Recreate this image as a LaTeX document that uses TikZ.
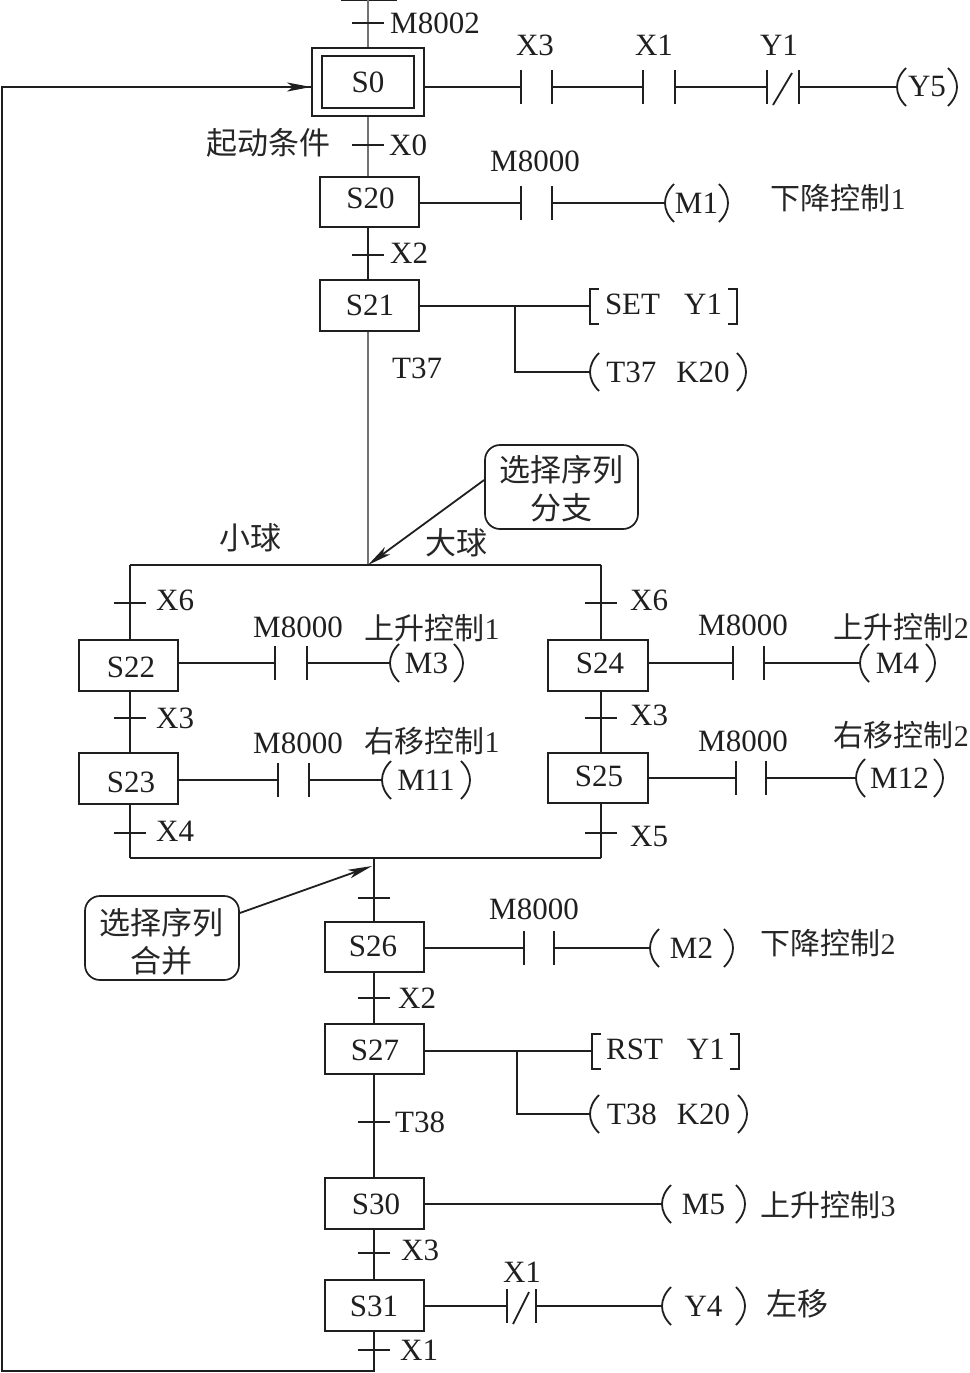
\documentclass[tikz,border=0pt]{standalone}
\usepackage{fontspec}
\setmainfont{Liberation Serif}
\newfontfamily\cjk{Noto Sans CJK SC}
\usetikzlibrary{arrows.meta}
\tikzset{
  x=1pt,y=-1pt,
  ln/.style={line width=1.8pt,black!88},
  thinln/.style={line width=1.1pt,black!55},
  stepbox/.style={draw=black!88,line width=1.9pt,inner sep=0pt},
  lab/.style={inner sep=0pt,font=\fontsize{31}{31}\selectfont,text=black!88},
  cn/.style={inner sep=0pt,font=\fontsize{30}{30}\selectfont,text=black!85},
  cnb/.style={inner sep=0pt,font=\cjk\fontsize{31}{31}\selectfont,text=black!85},
  callout/.style={draw=black!88,line width=1.7pt,rounded corners=15pt,inner sep=0pt},
  calltext/.style={inner sep=0pt,align=center,font=\cjk\fontsize{31}{38}\selectfont,text=black!85},
  arr/.style={ln,-{Stealth[length=24pt,width=9pt,inset=6pt]}}
}
% step box by its corners, with its text at a given place
\newcommand{\stp}[8]{\node[stepbox,minimum width=#4pt-#2pt,minimum height=#5pt-#3pt] (#1) at ({(#2+#4)/2},{(#3+#5)/2}) {};
  \node[lab] (#1t) at (#7,#8) {#6};}
% open contact
\newcommand{\cont}[4]{\coordinate (#1l) at (#2,#4);\coordinate (#1r) at (#3,#4);
  \draw[ln] (#2,#4-17) -- (#2,#4+17) (#3,#4-17) -- (#3,#4+17);}
% closed contact
\newcommand{\ncont}[4]{\cont{#1}{#2}{#3}{#4}\draw[ln] (#3-7,#4-14) -- (#2+6,#4+18);}
% coil in round brackets
\newcommand{\coil}[5]{\coordinate (#1) at (#2,#4);
  \node[lab] (#1t) at ({(#2+#3)/2},#4) {#5};
  \draw[ln] (#2+9,#4-19) .. controls (#2-3,#4-7) and (#2-3,#4+7) .. (#2+9,#4+19);
  \draw[ln] (#3-9,#4-19) .. controls (#3+3,#4-7) and (#3+3,#4+7) .. (#3-9,#4+19);}
% instruction in square brackets
\newcommand{\instr}[5]{\coordinate (#1) at (#2,#4);
  \node[lab] (#1t) at ({(#2+#3)/2},#4-2) {#5};
  \draw[ln] (#2+9,#4-17) -- (#2,#4-17) -- (#2,#4+18) -- (#2+9,#4+18);
  \draw[ln] (#3-9,#4-17) -- (#3,#4-17) -- (#3,#4+18) -- (#3-9,#4+18);}
% transition tick
\newcommand{\tick}[3]{\coordinate (#1) at (#2,#3);\draw[ln] (#2-16,#3) -- (#2+16,#3);}
\begin{document}
\begin{tikzpicture}
\useasboundingbox (0,0) rectangle (969,1373);
\fill[white] (0,0) rectangle (969,1373);
% steps
\node[stepbox,minimum width=112pt,minimum height=68pt] (s0o) at (368,82) {};
\stp{s0}{322}{56}{414}{108}{S0}{368}{82}
\stp{s20}{320}{177}{419}{227}{S20}{370.5}{198}
\stp{s21}{320}{280}{419}{331}{S21}{370}{305}
\stp{s22}{79}{640}{178}{691}{S22}{131}{667}
\stp{s23}{79}{753}{178}{804}{S23}{131}{782}
\stp{s24}{548}{640}{648}{691}{S24}{600}{663}
\stp{s25}{548}{753}{648}{803}{S25}{599}{776}
\stp{s26}{325}{922}{424}{972}{S26}{373}{946}
\stp{s27}{325}{1024}{424}{1074}{S27}{375}{1050}
\stp{s30}{325}{1178}{424}{1229}{S30}{376}{1204}
\stp{s31}{325}{1280}{424}{1331}{S31}{374}{1306}
% top spine
\coordinate (top) at (368,0);
\coordinate (j1) at (368,565);
\coordinate (j2) at (374,858);
\draw[ln] (341,0) -- (397,0);
\draw[thinln] (top) -- (s0o.north -| top);
\draw[thinln] (s0o.south -| top) -- (s20.north -| top);
\draw[ln] (s20.south -| top) -- (s21.north -| top);
\draw[thinln] (s21.south -| top) -- (j1);
% selective block
\coordinate (bl) at (130,565);\coordinate (br) at (601,565);
\coordinate (cl) at (130,858);\coordinate (cr) at (601,858);
\draw[ln] (bl) -- (br);
\draw[ln] (cl) -- (cr);
\draw[ln] (bl) -- (s22.north -| bl);
\draw[ln] (s22.south -| bl) -- (s23.north -| bl);
\draw[ln] (s23.south -| bl) -- (cl);
\draw[ln] (br) -- (s24.north -| br);
\draw[ln] (s24.south -| br) -- (s25.north -| br);
\draw[ln] (s25.south -| br) -- (cr);
% lower spine
\draw[ln] (j2) -- (s26.north -| j2);
\draw[ln] (s26.south -| j2) -- (s27.north -| j2);
\draw[ln] (s27.south -| j2) -- (s30.north -| j2);
\draw[ln] (s30.south -| j2) -- (s31.north -| j2);
\coordinate (fb1) at (374,1371);\coordinate (fb2) at (2,1371);\coordinate (fb3) at (2,87);
\draw[ln] (s31.south -| j2) -- (fb1) -- (fb2) -- (fb3) -- (s0o.west |- fb3);
\draw[arr] (250,87) -- (s0o.west |- fb3);
% ticks
\tick{t1}{368}{23}\node[lab,anchor=west] (lt1) at (390,23) {M8002};
\tick{t2}{368}{145}\node[lab,anchor=west] (lt2) at (389,145) {X0};
\tick{t3}{368}{255}\node[lab,anchor=west] (lt3) at (390,253) {X2};
\node[lab,anchor=west] (lt37) at (392,368) {T37};
\tick{t4}{130}{603}\node[lab,anchor=west] (lt4) at (156,600) {X6};
\tick{t5}{130}{718}\node[lab,anchor=west] (lt5) at (156,718) {X3};
\tick{t6}{130}{833}\node[lab,anchor=west] (lt6) at (156,831) {X4};
\tick{t7}{601}{603}\node[lab,anchor=west] (lt7) at (630,600) {X6};
\tick{t8}{601}{718}\node[lab,anchor=west] (lt8) at (630,715) {X3};
\tick{t9}{601}{833}\node[lab,anchor=west] (lt9) at (630,836) {X5};
\tick{t10}{374}{898}
\tick{t11}{374}{998}\node[lab,anchor=west] (lt11) at (398,998) {X2};
\tick{t12}{374}{1122}\node[lab,anchor=west] (lt12) at (395,1122) {T38};
\tick{t13}{374}{1253}\node[lab,anchor=west] (lt13) at (401,1250) {X3};
\tick{t14}{374}{1350}\node[lab,anchor=west] (lt14) at (400,1350) {X1};
% S0 rung
\cont{k1}{521}{552}{87}\cont{k2}{643}{675}{87}\ncont{k3}{767}{799}{87}
\coil{y5}{897}{957}{87}{Y5}
\draw[ln] (s0o.east |- k1l) -- (k1l) (k1r) -- (k2l) (k2r) -- (k3l) (k3r) -- (y5);
\node[lab] (lk1) at (535,45) {X3};
\node[lab] (lk2) at (654,45) {X1};
\node[lab] (lk3) at (779,45) {Y1};
% S20 rung
\cont{k4}{521}{552}{203}\coil{m1}{665}{728}{203}{M1}
\draw[ln] (s20.east |- k4l) -- (k4l) (k4r) -- (m1);
\node[lab] (lk4) at (535,161) {M8000};
\node[cn] (n1) at (838,198) {{\cjk 下降控制}1};
% S21 rung
\instr{i1}{590}{737}{306}{SET\hspace{24pt}Y1}
\coil{t37}{590}{746}{372}{T37\hspace{20pt}K20}
\coordinate (br1) at (515,306);
\draw[ln] (s21.east |- i1) -- (i1);
\draw[ln] (br1) |- (t37);
% callouts
\node[callout,minimum width=153pt,minimum height=84pt] (c1) at (561.5,487) {};
\node[calltext] (c1t) at (561,489) {选择序列\\分支};
\draw[arr] (c1.west |- 0,480) -- (j1);
\node[callout,minimum width=154pt,minimum height=84pt] (c2) at (162,938) {};
\node[calltext] (c2x) at (161,942) {选择序列\\合并};
\coordinate (c2e) at (372,866);
\draw[arr] (c2.east |- 0,913) -- (c2e);
\node[cnb] (n2) at (250,538) {小球};
\node[cnb] (n3) at (456,543) {大球};
\node[cnb] (n4) at (268,143) {起动条件};
% S22 rung
\cont{k5}{275}{307}{663}\coil{m3}{390}{463}{663}{M3}
\draw[ln] (s22.east |- k5l) -- (k5l) (k5r) -- (m3);
\node[lab] (lk5) at (298,627) {M8000};
\node[cn] (n5) at (432,628) {{\cjk 上升控制}1};
% S23 rung
\cont{k6}{278}{309}{780}\coil{m11}{382}{470}{780}{M11}
\draw[ln] (s23.east |- k6l) -- (k6l) (k6r) -- (m11);
\node[lab] (lk6) at (298,743) {M8000};
\node[cn] (n6) at (432,741) {{\cjk 右移控制}1};
% S24 rung
\cont{k7}{733}{764}{663}\coil{m4}{860}{935}{663}{M4}
\draw[ln] (s24.east |- k7l) -- (k7l) (k7r) -- (m4);
\node[lab] (lk7) at (743,625) {M8000};
\node[cn,anchor=east] (n7) at (969,627) {{\cjk 上升控制}2};
% S25 rung
\cont{k8}{736}{766}{778}\coil{m12}{856}{943}{778}{M12}
\draw[ln] (s25.east |- k8l) -- (k8l) (k8r) -- (m12);
\node[lab] (lk8) at (743,741) {M8000};
\node[cn,anchor=east] (n8) at (969,735) {{\cjk 右移控制}2};
% S26 rung
\cont{k9}{524}{554}{948}\coil{m2}{650}{733}{948}{M2}
\draw[ln] (s26.east |- k9l) -- (k9l) (k9r) -- (m2);
\node[lab] (lk9) at (534,909) {M8000};
\node[cn] (n9) at (828,943) {{\cjk 下降控制}2};
% S27 rung
\instr{i2}{592}{739}{1051}{RST\hspace{24pt}Y1}
\coil{t38}{590}{747}{1114}{T38\hspace{20pt}K20}
\coordinate (br2) at (517,1051);
\draw[ln] (s27.east |- i2) -- (i2);
\draw[ln] (br2) |- (t38);
% S30 rung
\coil{m5}{662}{745}{1204}{M5}
\draw[ln] (s30.east |- m5) -- (m5);
\node[cn] (n10) at (828,1205) {{\cjk 上升控制}3};
% S31 rung
\ncont{k10}{507}{536}{1306}\coil{y4}{662}{745}{1306}{Y4}
\draw[ln] (s31.east |- k10l) -- (k10l) (k10r) -- (y4);
\node[lab] (lk10) at (522,1272) {X1};
\node[cnb] (n11) at (797,1304) {左移};
\end{tikzpicture}
\end{document}
